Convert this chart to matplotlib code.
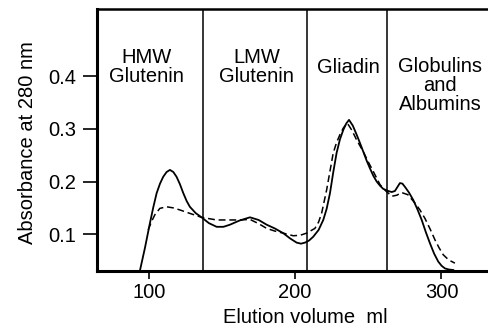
import matplotlib
matplotlib.use("Agg")
import matplotlib.pyplot as plt

plt.rcParams["font.family"] = ["Liberation Sans", "DejaVu Sans"]

# solid trace (elution volume ml, absorbance)
solid_ml = [93.8, 97.3, 100.7, 103.0, 105.3, 107.6, 109.8, 112.1, 114.4, 116.7,
            118.9, 121.2, 123.5, 125.8, 128.0, 132.0, 136.0, 141.0, 146.3, 151.0,
            155.4, 162.0, 169.1, 175.0, 180.5, 186.0, 191.8, 196.5, 201.0, 204.0,
            206.7, 209.5, 212.3, 216.0, 219.2, 221.5, 223.8, 226.0, 228.3, 230.6,
            232.9, 234.9, 236.8, 239.4, 242.0, 244.3, 246.5, 248.8, 251.1, 253.4,
            255.7, 258.0, 260.2, 263.6, 266.0, 268.2, 270.0, 271.6, 273.3, 275.0,
            277.8, 280.7, 283.6, 286.5, 289.3, 292.1, 295.0, 297.8, 300.1, 302.4,
            305.0, 308.1]
solid_abs = [0.030, 0.074, 0.121, 0.151, 0.178, 0.196, 0.209, 0.218, 0.222, 0.218,
             0.209, 0.195, 0.178, 0.163, 0.152, 0.140, 0.132, 0.121, 0.114, 0.114,
             0.118, 0.126, 0.132, 0.127, 0.118, 0.111, 0.102, 0.092, 0.084, 0.082,
             0.084, 0.088, 0.095, 0.108, 0.127, 0.148, 0.178, 0.217, 0.254, 0.280,
             0.298, 0.310, 0.317, 0.306, 0.289, 0.273, 0.257, 0.240, 0.225, 0.211,
             0.200, 0.192, 0.186, 0.182, 0.180, 0.182, 0.190, 0.197, 0.196, 0.190,
             0.179, 0.165, 0.147, 0.127, 0.104, 0.083, 0.063, 0.048, 0.040, 0.035,
             0.033, 0.032]

# dashed trace
dashed_ml = [99.5, 101.8, 104.1, 107.5, 112.1, 116.5, 121.2, 128.5, 136.0, 146.3,
             155.0, 162.2, 169.1, 175.0, 180.5, 186.0, 191.8, 198.7, 203.5, 207.8,
             213.5, 216.0, 218.1, 221.5, 226.0, 228.3, 230.6, 233.0, 235.6, 238.8,
             242.0, 246.5, 250.0, 253.4, 258.0, 262.0, 266.1, 269.5, 272.8, 277.0,
             281.9, 285.3, 288.7, 292.2, 295.6, 298.4, 301.2, 305.0, 309.2]
dashed_abs = [0.108, 0.124, 0.137, 0.149, 0.152, 0.150, 0.146, 0.139, 0.132, 0.127,
              0.127, 0.127, 0.128, 0.120, 0.111, 0.106, 0.102, 0.097, 0.098, 0.102,
              0.111, 0.123, 0.140, 0.184, 0.254, 0.274, 0.289, 0.302, 0.311, 0.297,
              0.279, 0.257, 0.237, 0.219, 0.194, 0.182, 0.172, 0.174, 0.179, 0.175,
              0.159, 0.146, 0.130, 0.110, 0.089, 0.074, 0.061, 0.051, 0.045]

# fraction boundaries and labels
bounds_ml = [136.8, 208.0, 263.0]
frac_labels = ["HMW\nGlutenin", "LMW\nGlutenin", "Gliadin", "Globulins\nand\nAlbumins"]
frac_x = [98.4, 173.6, 236.1, 299.0]
frac_y = [0.418, 0.418, 0.416, 0.382]

xticks = [100, 200, 300]
yticks = [0.1, 0.2, 0.3, 0.4]

fig = plt.figure(figsize=(4.89, 3.26), dpi=100)
ax = fig.add_axes([0.198, 0.169, 0.802, 0.804])

ax.plot(solid_ml, solid_abs, color="black", lw=1.3, solid_joinstyle="round")
ax.plot(dashed_ml, dashed_abs, color="black", lw=1.1, dashes=(4.5, 2.5))

for b in bounds_ml:
    ax.axvline(b, color="black", lw=1.1)

for lab, x, y in zip(frac_labels, frac_x, frac_y):
    ax.text(x, y, lab, ha="center", va="center", fontsize=14.5, linespacing=1.0)

ax.set_xlim(64.4, 332.5)
ax.set_ylim(0.0303, 0.5278)
ax.set_xticks(xticks)
ax.set_xticklabels([str(t) for t in xticks])
ax.set_yticks(yticks)
ax.set_yticklabels(["%.1f" % t for t in yticks])
ax.tick_params(axis="y", direction="out", length=10, width=1.2, pad=5, labelsize=14.5)
ax.tick_params(axis="x", direction="out", length=6, width=1.2, pad=3, labelsize=14.5)

ax.spines["right"].set_visible(False)
ax.spines["left"].set_linewidth(2.2)
ax.spines["bottom"].set_linewidth(2.2)
ax.spines["top"].set_linewidth(1.8)

ax.set_xlabel("Elution volume  ml", fontsize=14.5)
ax.set_ylabel("Absorbance at 280 nm", fontsize=14.5)
ax.xaxis.set_label_coords(0.531, -0.14)
ax.yaxis.set_label_coords(-0.152, 0.489)

fig.savefig("out.png", dpi=100)
